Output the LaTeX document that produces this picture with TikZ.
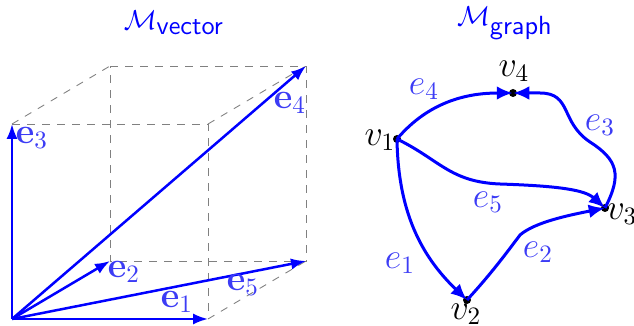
\documentclass[tikz,border=0pt]{standalone}
\usetikzlibrary{arrows.meta}
\definecolor{lblue}{RGB}{60,60,245}
\tikzset{
  vec/.style={blue, line width=1pt, -{Latex[length=6pt,width=4.5pt]}},
  edge/.style={blue, line width=1.2pt, -{Latex[length=6.5pt,width=5.5pt]}},
  guide/.style={gray, dashed, line width=0.35pt},
  lab/.style={lblue, inner sep=0pt, font=\Large},
  vlab/.style={black, inner sep=0pt, font=\Large},
  title/.style={blue, inner sep=0pt, font=\fontsize{10.5}{12}\selectfont},
  vert/.style={circle, fill=black, inner sep=0pt, minimum size=3.2pt}
}
\begin{document}
\begin{tikzpicture}[x=0.4pt, y=-0.4pt]
\useasboundingbox (0,0) rectangle (634,326);
% titles
\node[title] (tv) at (174,23) {$\mathcal{M}_{\textsf{vector}}$};
\node[title] (tg) at (505,23) {$\mathcal{M}_{\textsf{graph}}$};
% cube corners
\coordinate (O) at (12,319);
\coordinate (A) at (208,319);
\coordinate (C) at (12,124);
\coordinate (D) at (208,124);
\coordinate (B) at (110,261);
\coordinate (E) at (306,261);
\coordinate (F) at (110,66);
\coordinate (G) at (306,66);
% dashed guides
\draw[guide] (C) -- (D) -- (A);
\draw[guide] (F) -- (G) -- (E) -- (B) -- (F);
\draw[guide] (C) -- (F);
\draw[guide] (D) -- (G);
\draw[guide] (A) -- (E);
% vectors
\draw[vec] (O) -- (A);
\draw[vec] (O) -- (C);
\draw[vec] (O) -- (B);
\draw[vec] (O) -- (G);
\draw[vec] (O) -- (E);
\node[lab] (l1) at (177,302) {$\mathbf{e}_1$};
\node[lab] (l2) at (124,272) {$\mathbf{e}_2$};
\node[lab] (l3) at (32,138) {$\mathbf{e}_3$};
\node[lab] (l4) at (290,103) {$\mathbf{e}_4$};
\node[lab] (l5) at (243,285) {$\mathbf{e}_5$};
% graph
\node[vert] (v1) at (397,139) {};
\node[vert] (v2) at (467,300) {};
\node[vert] (v3) at (605,208) {};
\node[vert] (v4) at (513,93) {};
\node[vlab] (n1) at (380,140) {$v_1$};
\node[vlab] (n2) at (466,314) {$v_2$};
\node[vlab] (n3) at (622,214) {$v_3$};
\node[vlab] (n4) at (514,71) {$v_4$};
\draw[edge] (v1.center) .. controls (430,100) and (470,93) .. (v4.center);
\draw[edge] (v3.center) .. controls (622,175) and (618,160) .. (590,142)
   .. controls (560,122) and (572,93) .. (540,93) -- (v4.center);
\draw[edge] (v1.center) .. controls (440,160) and (450,182) .. (500,184)
   .. controls (560,186) and (585,190) .. (v3.center);
\draw[edge] (v2.center) .. controls (490,275) and (505,255) .. (520,235)
   .. controls (535,222) and (570,215) .. (v3.center);
\draw[edge] (v1.center) .. controls (398,210) and (420,255) .. (v2.center);
\node[lab] (m4) at (424,89) {$e_4$};
\node[lab] (m3) at (600,125) {$e_3$};
\node[lab] (m5) at (488,202) {$e_5$};
\node[lab] (m2) at (538,252) {$e_2$};
\node[lab] (m1) at (400,263) {$e_1$};
\end{tikzpicture}
\end{document}
